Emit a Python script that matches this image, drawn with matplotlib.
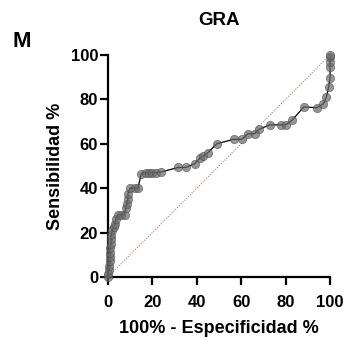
import matplotlib.pyplot as plt

# ROC curve points (100% - specificity, sensitivity)
fpr = [0, 0, 0.5, 0.5, 1, 1, 1, 1, 1.5, 1.5, 1.5, 2, 2.5, 3, 3.5, 4.5, 6, 7.5,
       8, 8.5, 9, 9, 10, 12, 13.5, 15, 17, 18.5, 20, 21.5, 24,
       31.6, 35, 39, 41.5, 43, 45, 49, 56.6, 60.3, 63, 66, 68,
       72.8, 78, 80, 82.8, 88.2, 94, 97, 98.3, 99.4, 100, 100, 100, 100, 100]
tpr = [0, 1.5, 3, 5, 7, 9, 11, 13, 15, 17, 19, 21, 22.5, 24, 26, 28, 28, 28,
       31, 33, 35, 37.5, 40, 40, 40, 46.5, 47, 47, 47, 47, 47.3,
       49.3, 49.3, 51, 53.5, 54.5, 56, 60, 62, 62, 64.5, 64.5, 66.5,
       68.5, 68.5, 68.5, 70.5, 76.6, 76.2, 78, 81, 85.7, 89.8, 94.5, 97, 99, 100]
diag = [0, 100]
xticks = [0, 20, 40, 60, 80, 100]
yticks = [0, 20, 40, 60, 80, 100]

plt.rcParams['font.family'] = ['Liberation Sans', 'DejaVu Sans']
plt.rcParams['font.weight'] = 'bold'

fig = plt.figure(figsize=(3.46, 3.39), dpi=100)
ax = fig.add_axes([0.312, 0.183, 0.642, 0.655])

ax.plot(diag, diag, ls=':', color='#d05050', lw=0.7, zorder=1)
ax.plot(fpr, tpr, color='black', lw=0.9, zorder=2, clip_on=False)
ax.plot(fpr, tpr, ls='none', marker='o', ms=6, mfc='#6a6a6a', mec='#4a4a4a',
        mew=0.5, alpha=0.7, zorder=3, clip_on=False)

ax.set_xlim(0, 100)
ax.set_ylim(0, 100)
ax.set_xticks(xticks)
ax.set_yticks(yticks)
for s in ['top', 'right']:
    ax.spines[s].set_visible(False)
for s in ['left', 'bottom']:
    ax.spines[s].set_linewidth(1.6)
ax.tick_params(axis='both', direction='out', length=5.5, width=1.6, labelsize=12)
ax.tick_params(axis='y', pad=1.5)
ax.tick_params(axis='x', pad=7.5)
for lab in ax.get_xticklabels() + ax.get_yticklabels():
    lab.set_fontweight('bold')

ax.set_xlabel('100% - Especificidad %', fontsize=13, fontweight='bold', labelpad=7)
ax.set_ylabel('Sensibilidad %', fontsize=13, fontweight='bold', labelpad=5)
fig.text(0.633, 0.94, 'GRA', ha='center', va='center', fontsize=13.5, fontweight='bold')
fig.text(0.062, 0.878, 'M', ha='center', va='center', fontsize=16, fontweight='bold')

fig.savefig('out.png', dpi=100)
